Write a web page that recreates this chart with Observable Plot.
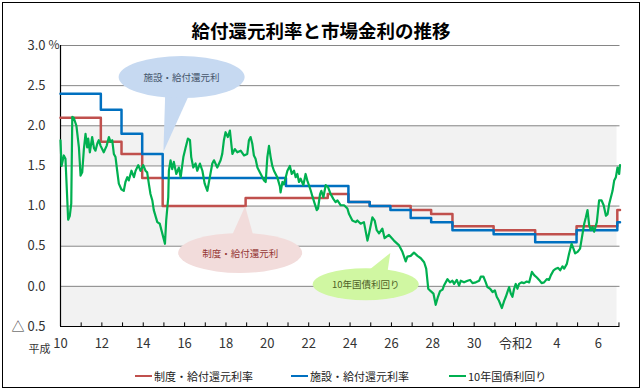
<!DOCTYPE html>
<html><head><meta charset="utf-8">
<script src="https://cdn.jsdelivr.net/npm/d3@7"></script>
<script src="https://cdn.jsdelivr.net/npm/@observablehq/plot@0.6"></script>
<style>
body{margin:0;background:#fff;}
#wrap{position:relative;width:642px;height:391px;font-family:"Noto Sans CJK JP",sans-serif;overflow:hidden;background:#fff;}
#frame{position:absolute;left:2px;top:2px;width:636px;height:384px;border:1px solid #000;pointer-events:none;z-index:3;}
#title{position:absolute;left:0;width:642px;top:18px;text-align:center;font-size:18.5px;font-weight:bold;line-height:24px;color:#000;z-index:2;}
#chart{position:absolute;left:0;top:0;}
.lg{position:absolute;top:368px;height:16px;display:flex;align-items:center;font-size:11px;color:#222;z-index:2;}
.lg .sw{width:17px;height:2.5px;margin-right:2px;}
</style></head>
<body>
<div id="wrap">
  <div id="chart"></div>
  <div id="title">給付還元利率と市場金利の推移</div>
  <div id="legend"></div>
  <div id="frame"></div>
</div>
<script>
// ---- data ----
const seriesNames = ["制度・給付還元利率", "施設・給付還元利率", "10年国債利回り"];
const seriesColors = ["#c0504d", "#0070c0", "#00b050"];

// step rates (fiscal-year position where each rate starts; last entry = end of chart)
const stepYear = [10, 11.95, 12.95, 13.95, 14.94, 18.95, 20.9, 22.92, 23.92, 24.95, 25.95, 26.93, 27.92, 28.95, 30.94, 32.95, 34.95, 36.92, 37.05];
const seidoRate = [2.1, 1.8, 1.65, 1.35, 1.0, 1.1, 1.1, 1.15, 1.05, 1.0, 1.0, 0.95, 0.9, 0.75, 0.7, 0.65, 0.75, 0.95, 0.95];
const shisetsuRate = [2.4, 2.2, 1.9, 1.65, 1.35, 1.35, 1.25, 1.25, 1.05, 1.0, 0.95, 0.85, 0.8, 0.7, 0.65, 0.55, 0.7, 0.8, 0.8];

// 10-year JGB yield (traced)
const bondYear = [
 10.00,10.05,10.16,10.24,10.37,10.45,10.52,10.57,10.64,10.77,
 10.89,10.97,11.05,11.13,11.21,11.29,11.34,11.42,11.53,11.62,
 11.69,11.78,11.85,11.94,12.09,12.23,12.34,12.42,12.50,12.58,
 12.66,12.74,12.82,12.94,13.06,13.14,13.23,13.30,13.43,13.55,
 13.63,13.76,13.87,14.00,14.11,14.19,14.27,14.35,14.44,14.51,
 14.68,14.80,14.92,15.05,15.11,15.21,15.24,15.32,15.40,15.48,
 15.60,15.72,15.81,15.94,16.05,16.16,16.26,16.32,16.42,16.53,
 16.61,16.74,16.86,16.97,17.10,17.22,17.34,17.42,17.58,17.74,
 17.82,17.90,17.98,18.09,18.19,18.31,18.43,18.55,18.71,18.87,
 19.03,19.11,19.19,19.27,19.35,19.43,19.52,19.68,19.84,19.92,
 20.00,20.08,20.16,20.24,20.32,20.48,20.61,20.64,20.73,20.80,
 20.89,20.97,21.09,21.18,21.29,21.37,21.45,21.53,21.61,21.74,
 21.85,21.93,22.09,22.18,22.29,22.39,22.45,22.55,22.61,22.71,
 22.82,22.93,23.06,23.19,23.30,23.39,23.55,23.71,23.87,23.95,
 24.11,24.27,24.35,24.51,24.67,24.84,24.92,25.08,25.19,25.29,
 25.40,25.56,25.67,25.88,26.12,26.37,26.53,26.69,26.77,26.93,
 27.09,27.26,27.42,27.58,27.68,27.78,27.90,28.03,28.14,28.25,
 28.35,28.47,28.54,28.71,28.83,28.95,29.03,29.16,29.27,29.35,
 29.51,29.68,29.80,29.92,30.08,30.24,30.32,30.45,30.56,30.64,
 30.77,30.89,31.00,31.09,31.20,31.34,31.45,31.53,31.61,31.69,
 31.77,31.85,31.93,32.01,32.09,32.17,32.29,32.41,32.54,32.66,
 32.79,32.90,33.03,33.14,33.26,33.38,33.51,33.62,33.71,33.84,
 33.95,34.06,34.16,34.27,34.35,34.48,34.59,34.71,34.80,34.88,
 35.00,35.12,35.21,35.32,35.40,35.48,35.56,35.64,35.72,35.80,
 35.93,36.04,36.16,36.26,36.37,36.45,36.53,36.61,36.69,36.77,
 36.85,36.93,37.01,37.05
];
const bondYield = [
 1.82,1.50,1.63,1.59,0.83,0.88,1.03,2.11,2.10,2.00,
 1.73,1.38,1.42,1.71,1.90,1.73,1.84,1.67,1.86,1.72,
 1.69,1.78,1.82,1.75,1.67,1.75,1.86,1.80,1.82,1.65,
 1.61,1.44,1.28,1.21,1.19,1.30,1.36,1.32,1.44,1.36,
 1.44,1.51,1.44,1.51,1.44,1.42,1.28,1.15,1.07,0.95,
 0.80,0.78,0.66,0.53,0.82,1.11,1.44,1.57,1.46,1.55,
 1.40,1.48,1.36,1.61,1.73,1.84,1.82,1.61,1.48,1.53,
 1.44,1.53,1.44,1.28,1.19,1.36,1.53,1.57,1.48,1.57,
 1.65,1.82,1.92,1.86,1.94,1.65,1.71,1.67,1.69,1.63,
 1.65,1.82,1.86,1.78,1.63,1.59,1.48,1.40,1.32,1.30,
 1.61,1.75,1.61,1.50,1.44,1.36,1.24,1.17,1.30,1.27,
 1.36,1.44,1.50,1.40,1.44,1.36,1.40,1.30,1.34,1.26,
 1.40,1.32,1.20,1.12,1.03,0.95,0.97,1.15,1.19,1.11,
 1.26,1.24,1.15,1.09,1.05,1.07,1.01,1.01,0.97,0.90,
 0.82,0.80,0.82,0.78,0.80,0.57,0.66,0.86,0.82,0.70,
 0.66,0.72,0.60,0.64,0.57,0.51,0.43,0.31,0.37,0.38,
 0.42,0.38,0.35,0.30,0.22,-0.03,-0.06,-0.09,-0.23,-0.13,
 -0.06,-0.04,0.01,0.09,0.05,0.07,0.03,0.08,0.01,0.07,
 0.05,0.07,0.08,0.04,0.05,0.07,0.12,0.12,0.05,-0.01,
 -0.03,-0.07,-0.05,-0.13,-0.18,-0.27,-0.18,-0.13,-0.07,-0.01,
 -0.09,-0.13,-0.03,0.03,-0.03,0.03,0.05,0.04,0.06,0.05,
 0.18,0.14,0.11,0.08,0.04,0.05,0.09,0.08,0.14,0.20,
 0.22,0.23,0.20,0.25,0.22,0.28,0.41,0.53,0.47,0.41,
 0.43,0.47,0.61,0.78,0.86,0.95,0.76,0.70,0.74,0.68,
 0.80,1.07,1.07,1.01,0.88,0.90,1.03,1.11,1.19,1.32,
 1.36,1.48,1.40,1.51
];

// axes
const yTicks = [3.0, 2.5, 2.0, 1.5, 1.0, 0.5, 0.0, -0.5];
const gridValues = [3.0, 2.5, 2.0, 1.5, 1.0, 0.5, 0.0];
const bandLow = [1.5, 0.5, -0.5];
const bandHigh = [2.0, 1.0, 0.0];
const xLabelYears = [10, 12, 14, 16, 18, 20, 22, 24, 26, 28, 30, 32, 34, 36];
const xLabels = ["10", "12", "14", "16", "18", "20", "22", "24", "26", "28", "30", "令和2", "4", "6"];
const minorTickYears = [10,11,12,13,14,15,16,17,18,19,20,21,22,23,24,25,26,27,28,29,30,31,32,33,34,35,36,37];
const xDomain = [10, 37.05];
const yDomain = [-0.5, 3.0];

// callouts
const calloutLabels = ["施設・給付還元利", "制度・給付還元利", "10年国債利回り"];
const calloutX = [15.88, 18.71, 24.78];
const calloutY = [2.60, 0.41, 0.02];
const calloutTipX = [15.0, 18.95, 25.97];
const calloutTipY = [1.67, 0.99, 0.41];

// ---- styles for callouts (pixels) ----
const calloutStyle = [
  {rx: 63, ry: 21, base: [[-16.5, 19], [7, 19]], fill: "#c6d9f1", color: "#44546a"},
  {rx: 62, ry: 20, base: [[-8, -18], [13, -18]], fill: "#f2dcdb", color: "#953735"},
  {rx: 53, ry: 16, base: [[3, -14], [22, -14]], fill: "#d0f7a2", color: "#4f6228"}
];

const steps = stepYear.map((y, i) => ({year: y, seido: seidoRate[i], shisetsu: shisetsuRate[i]}));
const bond = bondYear.map((y, i) => ({year: y, value: bondYield[i]}));
const bands = bandLow.map((lo, i) => ({lo, hi: bandHigh[i]}));

const plot = Plot.plot({
  width: 642, height: 391,
  marginLeft: 60, marginRight: 22.5, marginTop: 45, marginBottom: 65,
  x: {domain: xDomain, label: null},
  y: {domain: yDomain, label: null},
  style: {fontFamily: '"Noto Sans CJK JP", sans-serif', fontSize: "13px", color: "#333", background: "transparent"},
  marks: [
    Plot.rect(bands, {y1: "lo", y2: "hi", fill: "#f2f2f2", insetRight: 3}),
    Plot.ruleY(gridValues, {stroke: "#868686", strokeWidth: 1}),
    Plot.ruleY([-0.5], {stroke: "#000", strokeWidth: 1.2}),
    Plot.ruleX([10], {stroke: "#000", strokeWidth: 1.2}),
    Plot.ruleX(minorTickYears, {x: d => d, y1: -0.5, y2: -0.455, stroke: "#000"}),
    Plot.axisY({ticks: yTicks, tickSize: 0, tickPadding: 15, label: null,
      tickFormat: d => d < 0 ? "△ " + Math.abs(d).toFixed(1) : d.toFixed(1)}),
    Plot.text(["%"], {x: xDomain[0], y: yTicks[0], text: d => d, textAnchor: "end", dx: -1, fontSize: 12}),
    Plot.axisX({ticks: xLabelYears, tickSize: 0, tickPadding: 12, label: null,
      tickFormat: d => xLabels[xLabelYears.indexOf(d)]}),
    Plot.text(["平成"], {x: xDomain[0], y: yDomain[0], text: d => d, textAnchor: "end", dx: -10, dy: 23, fontSize: 11}),
    Plot.line(steps, {x: "year", y: "seido", curve: "step-after", stroke: seriesColors[0], strokeWidth: 2.5}),
    Plot.line(steps, {x: "year", y: "shisetsu", curve: "step-after", stroke: seriesColors[1], strokeWidth: 2.5}),
    Plot.line(bond, {x: "year", y: "value", stroke: seriesColors[2], strokeWidth: 2.2, strokeLinejoin: "round"})
  ]
});

// callouts drawn through the plot's scales
const sx = plot.scale("x"), sy = plot.scale("y");
const g = d3.select(plot).append("g").attr("class", "callouts");
calloutLabels.forEach((label, i) => {
  const st = calloutStyle[i];
  const cx = sx.apply(calloutX[i]), cy = sy.apply(calloutY[i]);
  const tx = sx.apply(calloutTipX[i]), ty = sy.apply(calloutTipY[i]);
  g.append("path")
    .attr("d", `M${cx + st.base[0][0]},${cy + st.base[0][1]}L${tx},${ty}L${cx + st.base[1][0]},${cy + st.base[1][1]}Z`)
    .attr("fill", st.fill);
  g.append("ellipse").attr("cx", cx).attr("cy", cy).attr("rx", st.rx).attr("ry", st.ry).attr("fill", st.fill);
  g.append("text").attr("x", cx).attr("y", cy).attr("text-anchor", "middle").attr("dominant-baseline", "central")
    .attr("font-size", 9.5).attr("fill", st.color).text(label);
});

document.getElementById("chart").appendChild(plot);

// legend
const legendLeft = [135, 291, 449];
const legend = document.getElementById("legend");
seriesNames.forEach((name, i) => {
  const item = document.createElement("div");
  item.className = "lg";
  item.style.left = legendLeft[i] + "px";
  item.innerHTML = `<span class="sw" style="background:${seriesColors[i]}"></span><span>${name}</span>`;
  legend.appendChild(item);
});
</script>
</body></html>
